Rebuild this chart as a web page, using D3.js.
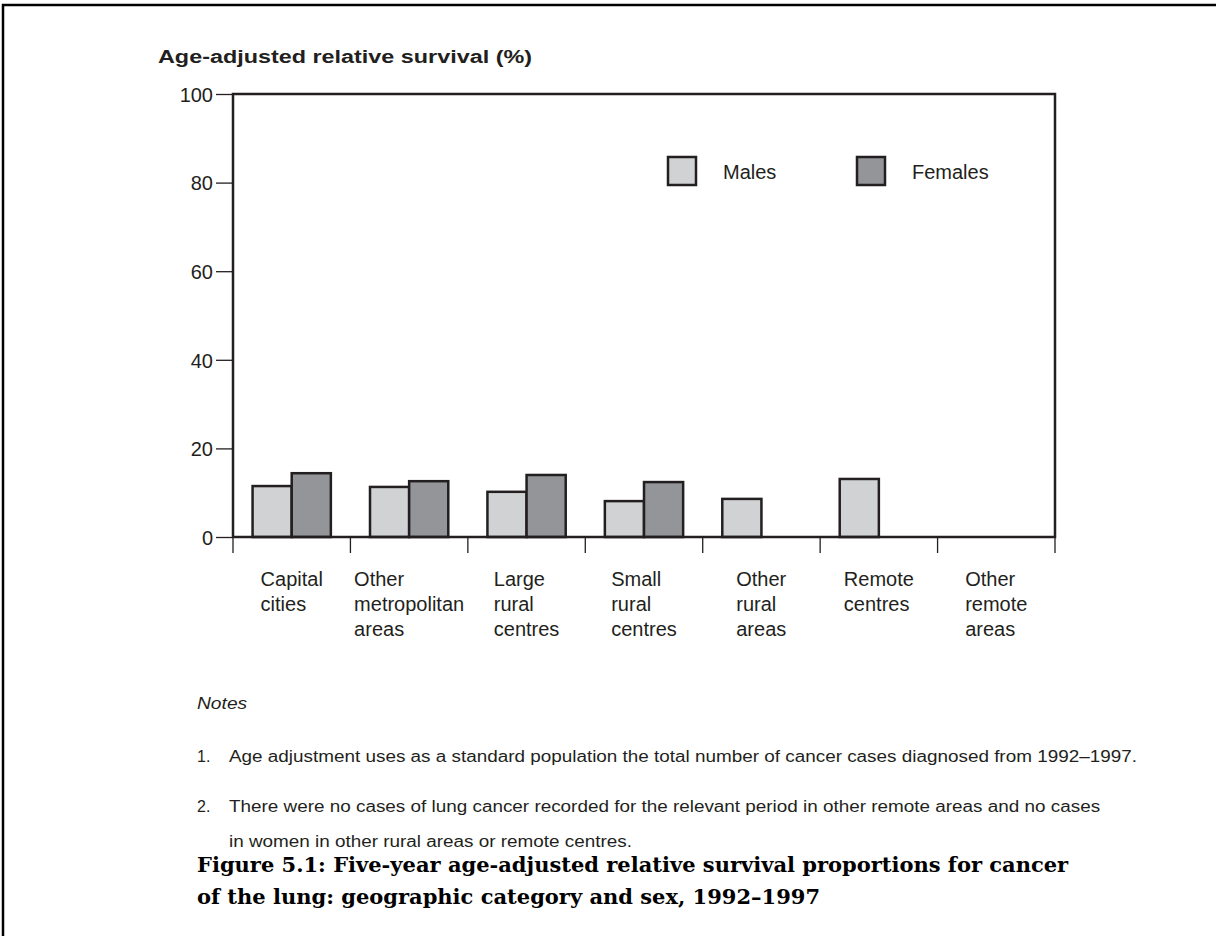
<!DOCTYPE html>
<html>
<head>
<meta charset="utf-8">
<script src="https://cdn.jsdelivr.net/npm/d3@7"></script>
<style>
  body { margin: 0; background: #fff; }
  svg { display: block; }
</style>
</head>
<body>
<div id="chart"></div>
<script>
// chart data
var categories = [
  ["Capital", "cities"],
  ["Other", "metropolitan", "areas"],
  ["Large", "rural", "centres"],
  ["Small", "rural", "centres"],
  ["Other", "rural", "areas"],
  ["Remote", "centres"],
  ["Other", "remote", "areas"]
];
var series = ["Males", "Females"];
var males = [11.5, 11.3, 10.2, 8.1, 8.6, 13.1, null];
var females = [14.4, 12.6, 14.0, 12.4, null, null, null];
var yTicks = [0, 20, 40, 60, 80, 100];
var notes = [
  ["Age adjustment uses as a standard population the total number of cancer cases diagnosed from 1992\u20131997."],
  ["There were no cases of lung cancer recorded for the relevant period in other remote areas and no cases",
   "in women in other rural areas or remote centres."]
];
var caption = [
  "Figure 5.1: Five-year age-adjusted relative survival proportions for cancer",
  "of the lung: geographic category and sex, 1992\u20131997"
];

var width = 1216, height = 936;
var margin = {top: 94, left: 233, right: 161, bottom: 399};
var plotW = width - margin.left - margin.right,
    plotH = height - margin.top - margin.bottom;
var ink = "#231f20";
var colors = {"Males": "#d1d2d4", "Females": "#939598"};
var sans = "'Liberation Sans', Arial, sans-serif";

var svg = d3.select("#chart")
  .append("svg")
    .attr("width", width)
    .attr("height", height);

// the source text is a wider face than ours, so stretch it a little
function widen(sel, k) {
  sel.each(function() {
    var w = this.getComputedTextLength();
    d3.select(this)
      .attr("textLength", w * k)
      .attr("lengthAdjust", "spacingAndGlyphs");
  });
}

// page frame (left and top edges)
svg.append("path")
  .attr("d", "M3,936V5H1216")
  .attr("fill", "none")
  .attr("stroke", "#000")
  .attr("stroke-width", 2.5);

var chart = svg.append("g")
  .attr("transform", "translate(" + margin.left + "," + margin.top + ")");

var keys = categories.map(function(d) { return d.join(" "); });
var xScale = d3.scaleBand().domain(keys).range([0, plotW]);
var bw = xScale.bandwidth();
var xSub = d3.scaleBand().domain(series).range([bw / 6, bw * 5 / 6]);
var yScale = d3.scaleLinear().domain([0, 100]).range([plotH, 0]);

// axis title
svg.append("text")
  .attr("x", 158)
  .attr("y", 63)
  .attr("font-family", sans)
  .attr("font-weight", "bold")
  .attr("font-size", 18)
  .attr("fill", ink)
  .attr("textLength", 374)
  .attr("lengthAdjust", "spacingAndGlyphs")
  .text("Age-adjusted relative survival (%)");

// bars
var rows = [];
keys.forEach(function(k, i) {
  if (males[i] != null) rows.push({cat: k, s: "Males", v: males[i]});
  if (females[i] != null) rows.push({cat: k, s: "Females", v: females[i]});
});

chart.selectAll("rect.bar")
  .data(rows)
  .enter()
  .append("rect")
    .attr("class", "bar")
    .attr("x", function(d) { return xScale(d.cat) + xSub(d.s); })
    .attr("y", function(d) { return yScale(d.v); })
    .attr("width", xSub.bandwidth())
    .attr("height", function(d) { return plotH - yScale(d.v); })
    .attr("fill", function(d) { return colors[d.s]; })
    .attr("stroke", ink)
    .attr("stroke-width", 2.5);

// plot box
chart.append("rect")
  .attr("width", plotW)
  .attr("height", plotH)
  .attr("fill", "none")
  .attr("stroke", ink)
  .attr("stroke-width", 2.5);

// y axis
var yAxis = chart.append("g")
  .call(d3.axisLeft(yScale).tickValues(yTicks).tickSize(17).tickPadding(3));
yAxis.select(".domain").remove();
yAxis.selectAll("line").attr("stroke", ink).attr("stroke-width", 1.3);
yAxis.selectAll("text")
  .attr("font-family", sans)
  .attr("font-size", 20)
  .attr("fill", ink)
  .attr("dy", "0.36em");

// x axis ticks at category boundaries
var bounds = keys.map(function(k) { return xScale(k); }).concat([plotW]);
chart.selectAll("line.xtick")
  .data(bounds)
  .enter()
  .append("line")
    .attr("class", "xtick")
    .attr("x1", function(d) { return d; })
    .attr("x2", function(d) { return d; })
    .attr("y1", plotH)
    .attr("y2", plotH + 16)
    .attr("stroke", ink)
    .attr("stroke-width", 1.3);

// category labels: left-aligned blocks centred in each band
var labels = chart.selectAll("g.xlab")
  .data(categories)
  .enter()
  .append("g")
    .attr("class", "xlab");
labels.each(function(lines, i) {
  var g = d3.select(this);
  var t = g.append("text")
    .attr("font-family", sans)
    .attr("font-size", 20)
    .attr("fill", ink);
  lines.forEach(function(s, j) {
    t.append("tspan").attr("x", 0).attr("y", plotH + 49 + j * 25).text(s);
  });
  var w = t.node().getBBox().width;
  g.attr("transform", "translate(" + (xScale(keys[i]) + bw / 2 - w / 2) + ",0)");
});

// legend
var legendX = [435, 624];
var legend = chart.selectAll("g.legend")
  .data(series)
  .enter()
  .append("g")
    .attr("class", "legend")
    .attr("transform", function(d, i) { return "translate(" + legendX[i] + ",63)"; });
legend.append("rect")
  .attr("width", 28)
  .attr("height", 28)
  .attr("fill", function(d) { return colors[d]; })
  .attr("stroke", ink)
  .attr("stroke-width", 2.5);
legend.append("text")
  .attr("x", 55)
  .attr("y", 22)
  .attr("font-family", sans)
  .attr("font-size", 20)
  .attr("fill", ink)
  .text(function(d) { return d; });

// notes
svg.append("text")
  .attr("x", 197)
  .attr("y", 709)
  .attr("font-family", sans)
  .attr("font-style", "italic")
  .attr("font-size", 16)
  .attr("fill", ink)
  .text("Notes")
  .call(widen, 1.2);

var noteY = [762, 812];
notes.forEach(function(lines, i) {
  svg.append("text")
    .attr("x", 197)
    .attr("y", noteY[i])
    .attr("font-family", sans)
    .attr("font-size", 16)
    .attr("fill", ink)
    .text((i + 1) + ".");
  lines.forEach(function(s, j) {
    svg.append("text")
      .attr("x", 229)
      .attr("y", noteY[i] + j * 35)
      .attr("font-family", sans)
      .attr("font-size", 16)
      .attr("fill", ink)
      .text(s)
      .call(widen, 1.18);
  });
});

// figure caption
caption.forEach(function(s, i) {
  svg.append("text")
    .attr("x", 197)
    .attr("y", 872 + i * 32)
    .attr("font-family", "'DejaVu Serif', serif")
    .attr("font-weight", "bold")
    .attr("font-size", 21)
    .attr("fill", "#000")
    .text(s);
});
</script>
</body>
</html>
